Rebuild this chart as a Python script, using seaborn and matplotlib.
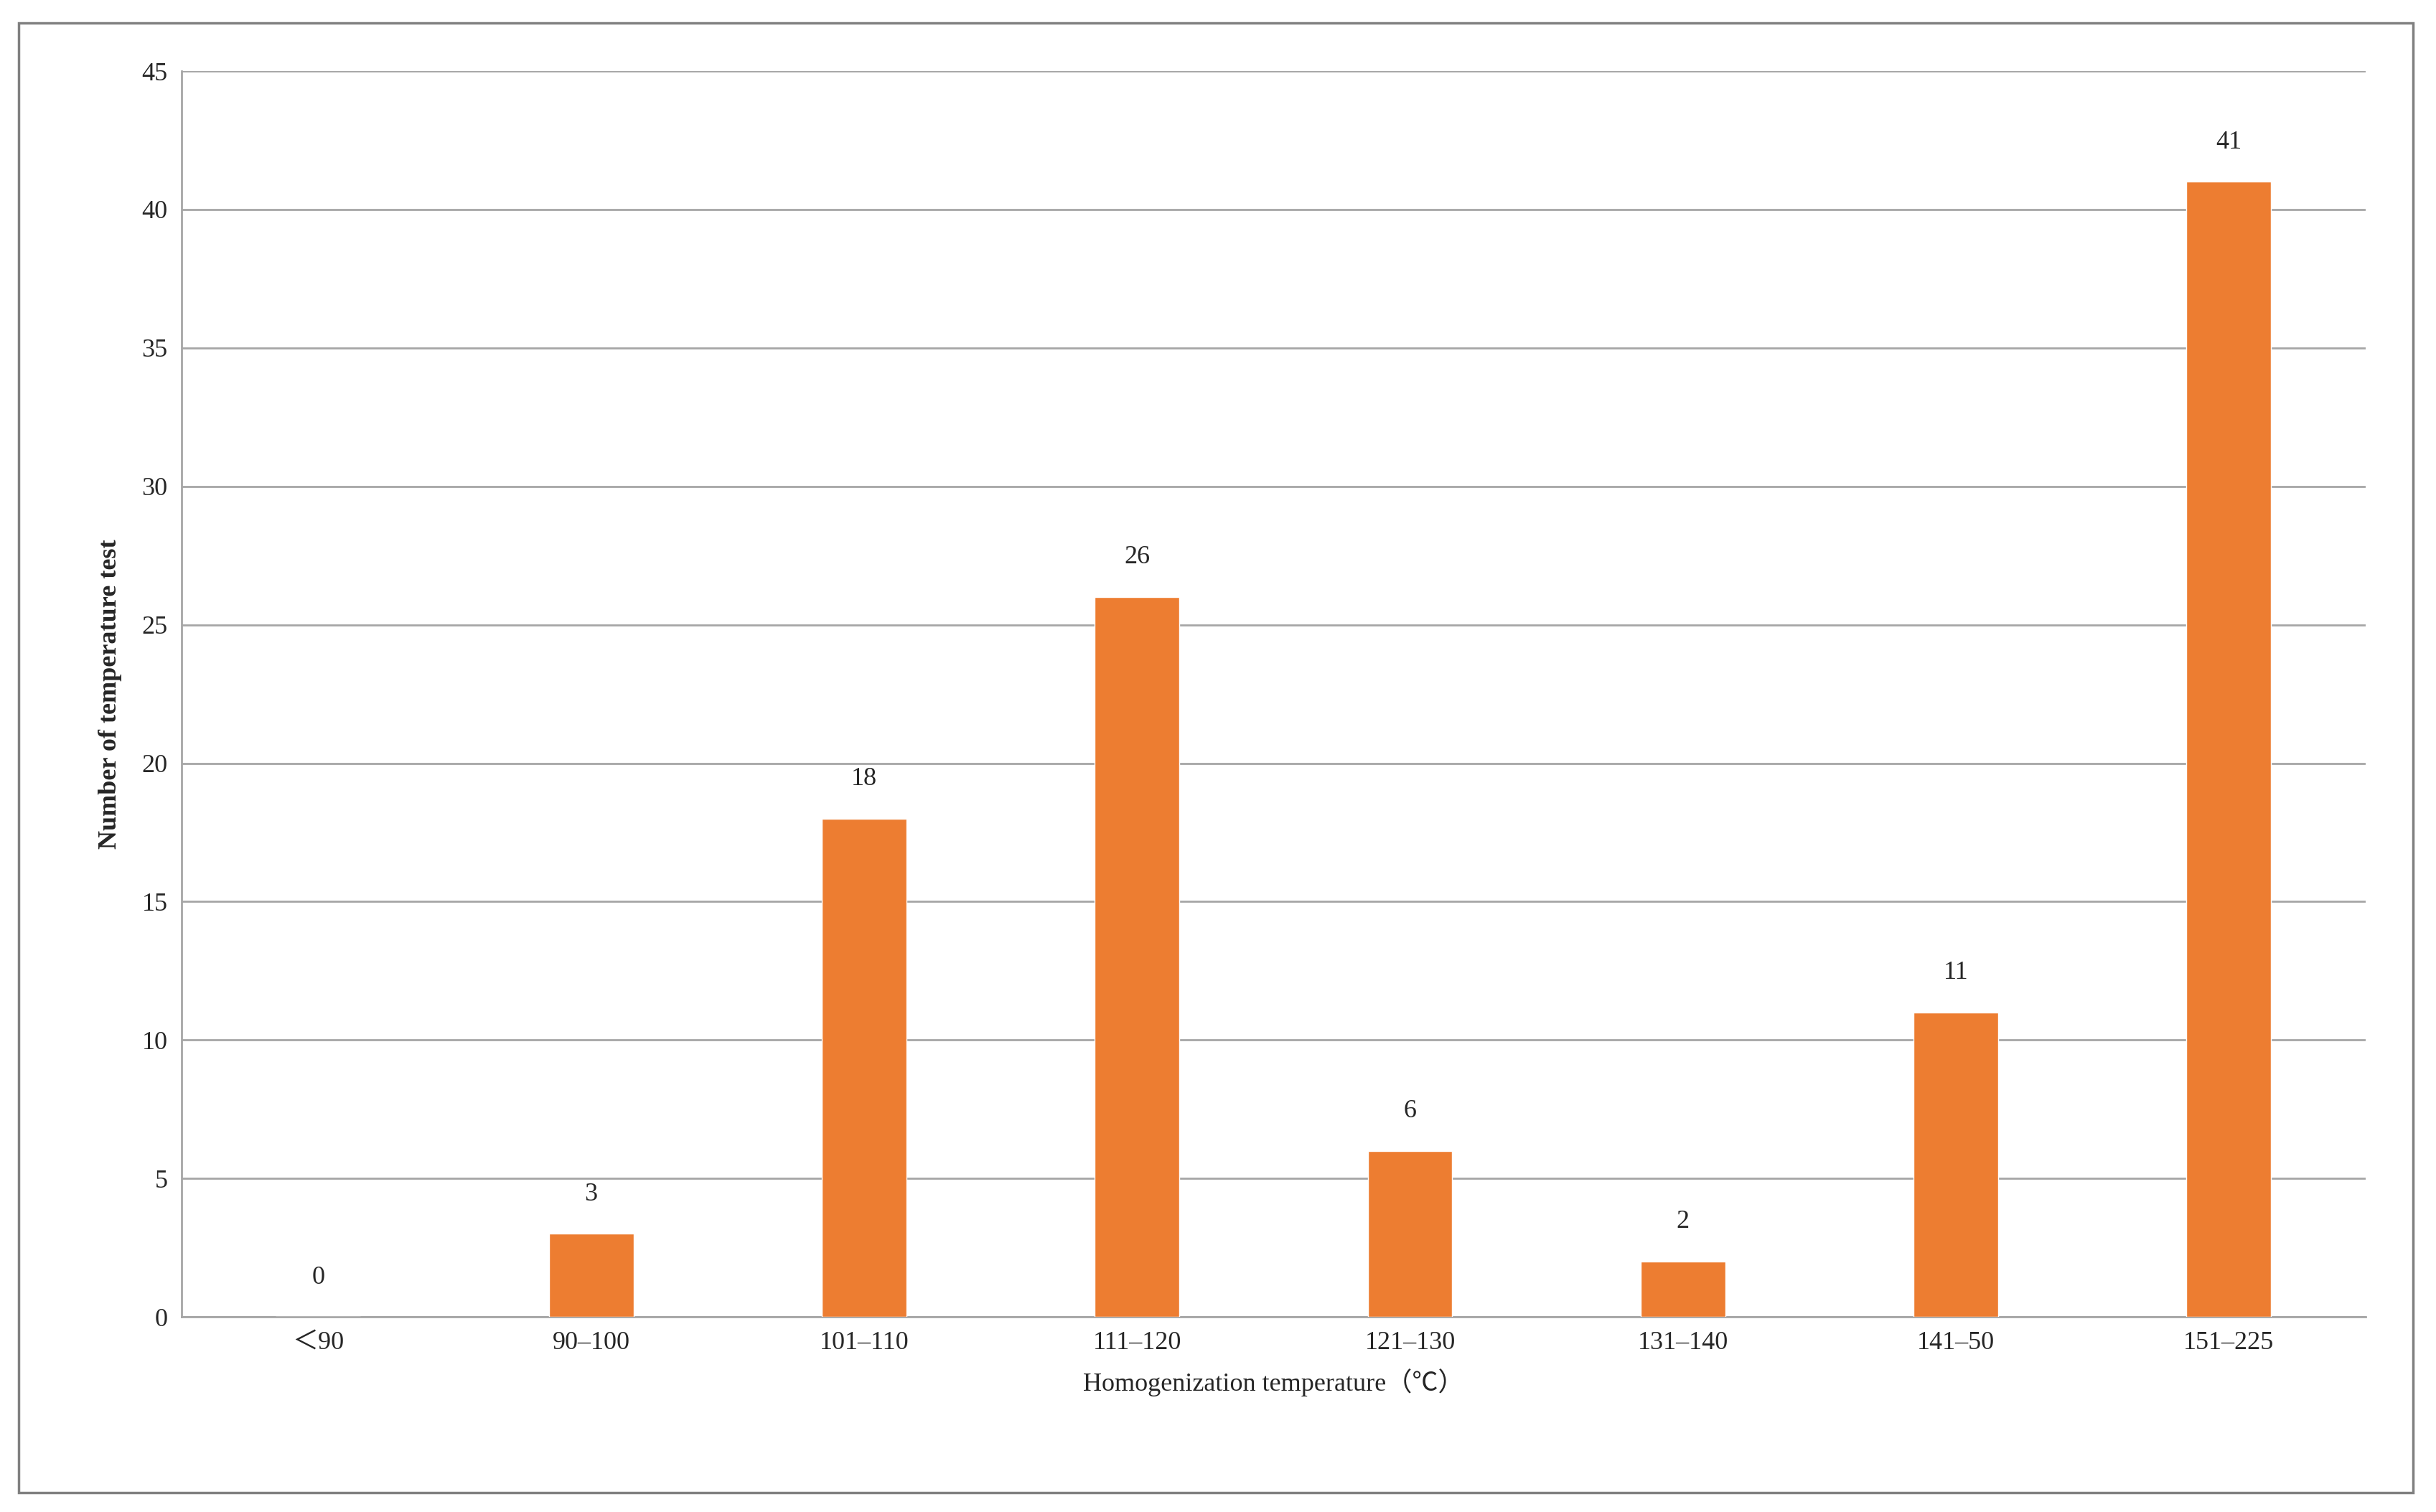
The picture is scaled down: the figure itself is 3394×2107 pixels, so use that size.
import pandas as pd
import matplotlib.pyplot as plt
import seaborn as sns
from matplotlib.patches import Rectangle

categories = ['＜90', '90–100', '101–110', '111–120', '121–130', '131–140', '141–50', '151–225']
counts = [0, 3, 18, 26, 6, 2, 11, 41]

sns.set_style('white')
plt.rcParams['font.family'] = ['Liberation Serif', 'Noto Sans CJK SC', 'DejaVu Sans']

df = pd.DataFrame({'cat': categories, 'n': counts})

fig = plt.figure(figsize=(33.94, 21.07), dpi=100)
ax = fig.add_axes([0.0746, 0.129, 0.8964, 0.824])

sns.barplot(data=df, x='cat', y='n', color='#ED7D31', width=0.31, saturation=1, ax=ax, zorder=3)

ax.set_ylim(0, 45)
ax.set_yticks(range(0, 46, 5))
ax.set_xlim(-0.5, len(categories) - 0.5)
ax.yaxis.grid(True, color='#A6A6A6', linewidth=2, zorder=0)
for s in ['top', 'right']:
    ax.spines[s].set_visible(False)
for s in ['left', 'bottom']:
    ax.spines[s].set_color('#A6A6A6')
    ax.spines[s].set_linewidth(2)
ax.tick_params(axis='both', length=0, labelsize=26, pad=14)

for i, v in enumerate(counts):
    ax.text(i, v + 1.0, str(v), ha='center', va='bottom', fontsize=26)

ax.set_xlabel('Homogenization temperature（℃）', fontsize=26, labelpad=14)
ax.set_ylabel('Number of temperature test', fontsize=26, fontweight='bold', labelpad=20)

fig.patches.append(Rectangle((0.0077, 0.013), 0.983, 0.972, transform=fig.transFigure,
                             fill=False, edgecolor='#808080', linewidth=2.5))

fig.savefig('out.png', dpi=100)
